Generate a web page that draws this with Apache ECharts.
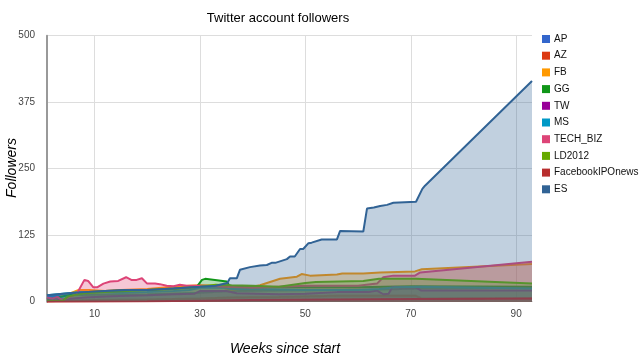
<!DOCTYPE html>
<html><head><meta charset="utf-8">
<script src="https://cdn.jsdelivr.net/npm/echarts@6/dist/echarts.min.js"></script>
<style>html,body{margin:0;padding:0;background:#fff}#c{width:640px;height:360px}</style>
</head><body><div id="c"></div>
<script>
const seriesNames = ["AP","AZ","FB","GG","TW","MS","TECH_BIZ","LD2012","FacebookIPOnews","ES"];
const xTicks = [10,30,50,70,90];
const yTicks = [0,125,250,375,500];

// [week, followers] pairs
const AP = [[1,10],[5,12],[10,13],[20,14],[30,17],[36,20],[45,21],[56,22],[64,23],[72,25],[93,26]];
const AZ = [[1,1],[10,3],[20,4],[30,6],[36,8],[45,9],[56,11],[71,11],[72,6],[93,6]];
const FB = [[1,3],[3,8],[5,14],[7,22],[9,22],[12,20],[15,22],[20,24],[25,28],[28,30],[30,31],[33,30],[36,22],[37.6,24],[41.4,31],[43.9,39],[45.2,43],[48.4,47],[49.3,52],[50.9,49],[56,51],[57,53],[61,53],[64.2,55],[70.8,57],[72.1,61],[93,71]];
const GG = [[1,5],[3,8],[5,12],[8,18],[12,20],[16,22],[20,22],[25,25],[29.4,28],[30.4,41],[31,43],[35.1,38],[35.7,28],[40,27],[50,27],[60,27],[70,29],[93,28]];
const TW = [[1,2],[3,3],[5,5],[8,8],[12,10],[16,11],[20,12],[25,14],[29,15],[30,20],[35,20],[37,16],[45,14],[50,15],[56,18],[62,18],[63.6,21],[64.8,14],[65.8,15],[66.5,27],[71,27],[72,21],[93,21]];
const MS = [[1,12],[3,14],[5,16],[7,18],[10,18],[15,17],[20,18],[25,20],[28,22],[30,26],[35,26],[36,24],[40,24],[50,22],[60,22],[64,24],[67,27],[72,28],[93,25]];
const TECH_BIZ = [[1,8],[2,6],[3,9],[3.8,3],[5,8],[6.6,14],[8.1,41],[8.8,39],[9.8,27],[10.5,27],[11.7,34],[13,38],[14.5,39],[16,46],[17,41],[18,41],[19,44],[20,34],[21.5,34],[22.4,33],[23.7,30],[25,29],[26.2,32],[27.5,30],[29.4,30],[31,30],[35,28],[40,26],[45,28],[50,30],[60,30],[63.6,34],[64.8,46],[66.7,49],[70.8,49],[71.8,55],[93,75]];
const LD2012 = [[1,2],[4,2],[5,10],[8,16],[12,18],[16,20],[20,22],[25,24],[30,28],[33,32],[36,31],[40,30],[45,28],[50,35],[52,37],[61,39],[64,43],[71,43],[93,34]];
const FacebookIPOnews = [[1,0],[20,1],[30,2],[40,3],[56,4],[72,5],[93,6]];
const ES = [[1,12],[3,14],[5,16],[8,18],[12,20],[16,22],[20,22],[25,25],[30,28],[33,30],[35.2,35],[35.7,44],[37,44],[37.6,60],[39.5,65],[41.4,68],[42.7,69],[43.6,73],[44.3,73],[46.5,80],[47.1,85],[48,85],[49,99],[49.6,99],[50.6,110],[51.2,111],[53.1,117],[56,117],[56.6,133],[61,132],[61.7,175],[63,177],[64.2,180],[65.5,182],[66.7,186],[67,188],[71,188],[72.2,212],[72.7,218],[93,415]];

const seriesData = [AP,AZ,FB,GG,TW,MS,TECH_BIZ,LD2012,FacebookIPOnews,ES];
const colors = ["#3366cc","#dc3912","#ff9900","#109618","#990099","#0099c6","#dd4477","#66aa00","#b82e2e","#316395"];

const chart = echarts.init(document.getElementById('c'));
chart.setOption({
  animation:false,
  color: colors,
  title:{text:"Twitter account followers",left:278,top:12,textAlign:'center',padding:0,
    textStyle:{fontFamily:'Liberation Sans',fontSize:13,fontWeight:'normal',color:'#000'}},
  legend:{orient:'vertical',left:542,top:33,padding:0,icon:'rect',itemWidth:8,itemHeight:8,itemGap:4.7,
    textStyle:{fontFamily:'Liberation Sans',fontSize:10,color:'#111',lineHeight:12,padding:[0,0,0,-1]},
    data:seriesNames},
  grid:{left:47,right:108,top:35.7,bottom:58.3,containLabel:false},
  xAxis:{type:'value',min:1,max:93,
    axisLine:{show:true,lineStyle:{color:'#aaa',width:1}},
    axisTick:{show:false,customValues:xTicks},
    axisLabel:{customValues:xTicks,fontFamily:'Liberation Sans',fontSize:10,color:'#444',margin:8},
    splitLine:{show:true,lineStyle:{color:'#ddd',width:1}}},
  yAxis:{type:'value',min:0,max:500,interval:125,
    axisLine:{show:true,lineStyle:{color:'#999',width:2}},
    axisTick:{show:false},
    axisLabel:{fontFamily:'Liberation Sans',fontSize:10,color:'#444',margin:12},
    splitLine:{show:true,lineStyle:{color:'#ddd',width:1}}},
  graphic:[
    {type:'text',rotation:Math.PI/2,x:12,y:168,
      style:{text:'Followers',font:'italic 14px "Liberation Sans"',fill:'#000',textAlign:'center',textVerticalAlign:'middle'}},
    {type:'text',x:285,y:349,
      style:{text:'Weeks since start',font:'italic 14px "Liberation Sans"',fill:'#000',textAlign:'center',textVerticalAlign:'middle'}}
  ],
  series: seriesNames.map((n,i)=>({
    name:n,type:'line',data:seriesData[i],showSymbol:false,symbol:'none',
    lineStyle:{width:2,color:colors[i]},
    itemStyle:{color:colors[i]},
    areaStyle:{opacity:0.3,color:colors[i]},
    z:2+i
  }))
});
</script></body></html>
